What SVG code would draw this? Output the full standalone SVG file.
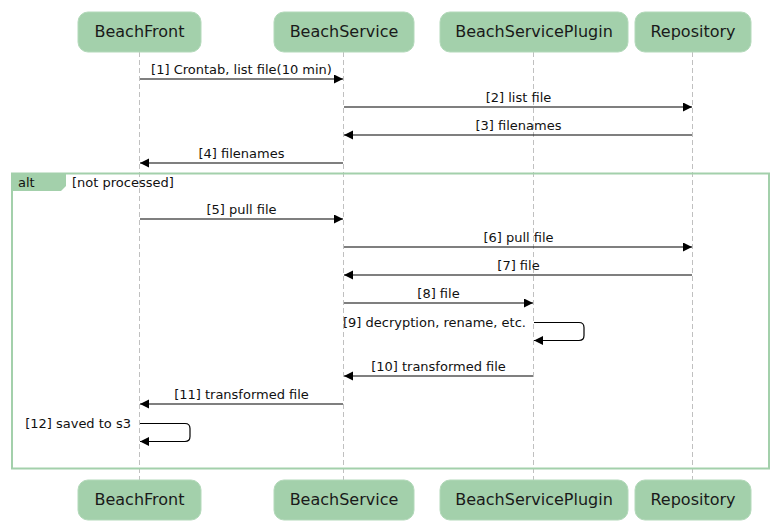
<svg xmlns="http://www.w3.org/2000/svg" width="779" height="528" viewBox="0 0 779 528">
<defs>
<style>
.box{fill:#a3d0ab;stroke:#b3d9ba;stroke-width:1}
.pt{font-family:"DejaVu Sans",sans-serif;font-size:16px;fill:#1a1a1a;text-anchor:middle}
.life{stroke:#c0c0c0;stroke-width:1;stroke-dasharray:5,3;fill:none}
.msg{stroke:#000;stroke-width:1.2;fill:none}
.lbl{font-family:"DejaVu Sans",sans-serif;font-size:13px;fill:#111;text-anchor:middle}
.lr{text-anchor:end}
.ll{text-anchor:start}
</style>
<marker id="ah" markerUnits="userSpaceOnUse" markerWidth="10" markerHeight="10" refX="9" refY="4.5" orient="auto">
<path d="M0,0 L9,4.5 L0,9 z" fill="#000"/>
</marker>
</defs>
<rect width="779" height="528" fill="#fff"/>
<g id="lifelines">
<line class="life" x1="139.5" y1="52" x2="139.5" y2="480"/>
<line class="life" x1="343.5" y1="52" x2="343.5" y2="480"/>
<line class="life" x1="533.5" y1="52" x2="533.5" y2="480"/>
<line class="life" x1="692.5" y1="52" x2="692.5" y2="480"/>
</g>
<g id="alt-frame">
<rect x="12" y="173.5" width="757" height="295" fill="none" stroke="#a3d0ab" stroke-width="2"/>
<path d="M12,173.5 H66 V186 L61,191 H12 Z" fill="#a3d0ab"/>
<text class="lbl ll" x="18" y="187">alt</text>
<text class="lbl ll" x="72" y="187">[not processed]</text>
</g>
<g id="participant-BeachFront">
<rect class="box" x="78" y="12" width="123" height="40" rx="10"/>
<text class="pt" x="139.5" y="37">BeachFront</text>
</g>
<g id="participant-BeachService">
<rect class="box" x="274" y="12" width="140" height="40" rx="10"/>
<text class="pt" x="344" y="37">BeachService</text>
</g>
<g id="participant-BeachServicePlugin">
<rect class="box" x="440" y="12" width="188" height="40" rx="10"/>
<text class="pt" x="534" y="37">BeachServicePlugin</text>
</g>
<g id="participant-Repository">
<rect class="box" x="635" y="12" width="116" height="40" rx="10"/>
<text class="pt" x="693" y="37">Repository</text>
</g>
<g id="participant-BeachFront-bottom">
<rect class="box" x="78" y="480" width="123" height="40" rx="10"/>
<text class="pt" x="139.5" y="505">BeachFront</text>
</g>
<g id="participant-BeachService-bottom">
<rect class="box" x="274" y="480" width="140" height="40" rx="10"/>
<text class="pt" x="344" y="505">BeachService</text>
</g>
<g id="participant-BeachServicePlugin-bottom">
<rect class="box" x="440" y="480" width="188" height="40" rx="10"/>
<text class="pt" x="534" y="505">BeachServicePlugin</text>
</g>
<g id="participant-Repository-bottom">
<rect class="box" x="635" y="480" width="116" height="40" rx="10"/>
<text class="pt" x="693" y="505">Repository</text>
</g>
<g id="connectors">
<line class="msg" x1="140" y1="79" x2="343" y2="79" marker-end="url(#ah)"/>
<text class="lbl" x="241.5" y="74">[1] Crontab, list file(10 min)</text>
<line class="msg" x1="344" y1="107" x2="692" y2="107" marker-end="url(#ah)"/>
<text class="lbl" x="518.5" y="102">[2] list file</text>
<line class="msg" x1="692" y1="135" x2="344" y2="135" marker-end="url(#ah)"/>
<text class="lbl" x="518.5" y="130">[3] filenames</text>
<line class="msg" x1="343" y1="163" x2="140" y2="163" marker-end="url(#ah)"/>
<text class="lbl" x="241.5" y="158">[4] filenames</text>
<line class="msg" x1="140" y1="219" x2="343" y2="219" marker-end="url(#ah)"/>
<text class="lbl" x="241.5" y="214">[5] pull file</text>
<line class="msg" x1="344" y1="247" x2="692" y2="247" marker-end="url(#ah)"/>
<text class="lbl" x="518.5" y="242">[6] pull file</text>
<line class="msg" x1="692" y1="275" x2="344" y2="275" marker-end="url(#ah)"/>
<text class="lbl" x="518.5" y="270">[7] file</text>
<line class="msg" x1="344" y1="303" x2="533" y2="303" marker-end="url(#ah)"/>
<text class="lbl" x="438.5" y="298">[8] file</text>
<path class="msg" d="M534,322.5 H579 Q584,322.5 584,327.5 V335.5 Q584,340.5 579,340.5 H534" marker-end="url(#ah)"/>
<text class="lbl lr" x="526" y="327">[9] decryption, rename, etc.</text>
<line class="msg" x1="533" y1="376" x2="344" y2="376" marker-end="url(#ah)"/>
<text class="lbl" x="438.5" y="371">[10] transformed file</text>
<line class="msg" x1="343" y1="404" x2="140" y2="404" marker-end="url(#ah)"/>
<text class="lbl" x="241.5" y="399">[11] transformed file</text>
<path class="msg" d="M140,423.5 H185 Q190,423.5 190,428.5 V436.5 Q190,441.5 185,441.5 H140" marker-end="url(#ah)"/>
<text class="lbl lr" x="131" y="428">[12] saved to s3</text>
</g>
</svg>
